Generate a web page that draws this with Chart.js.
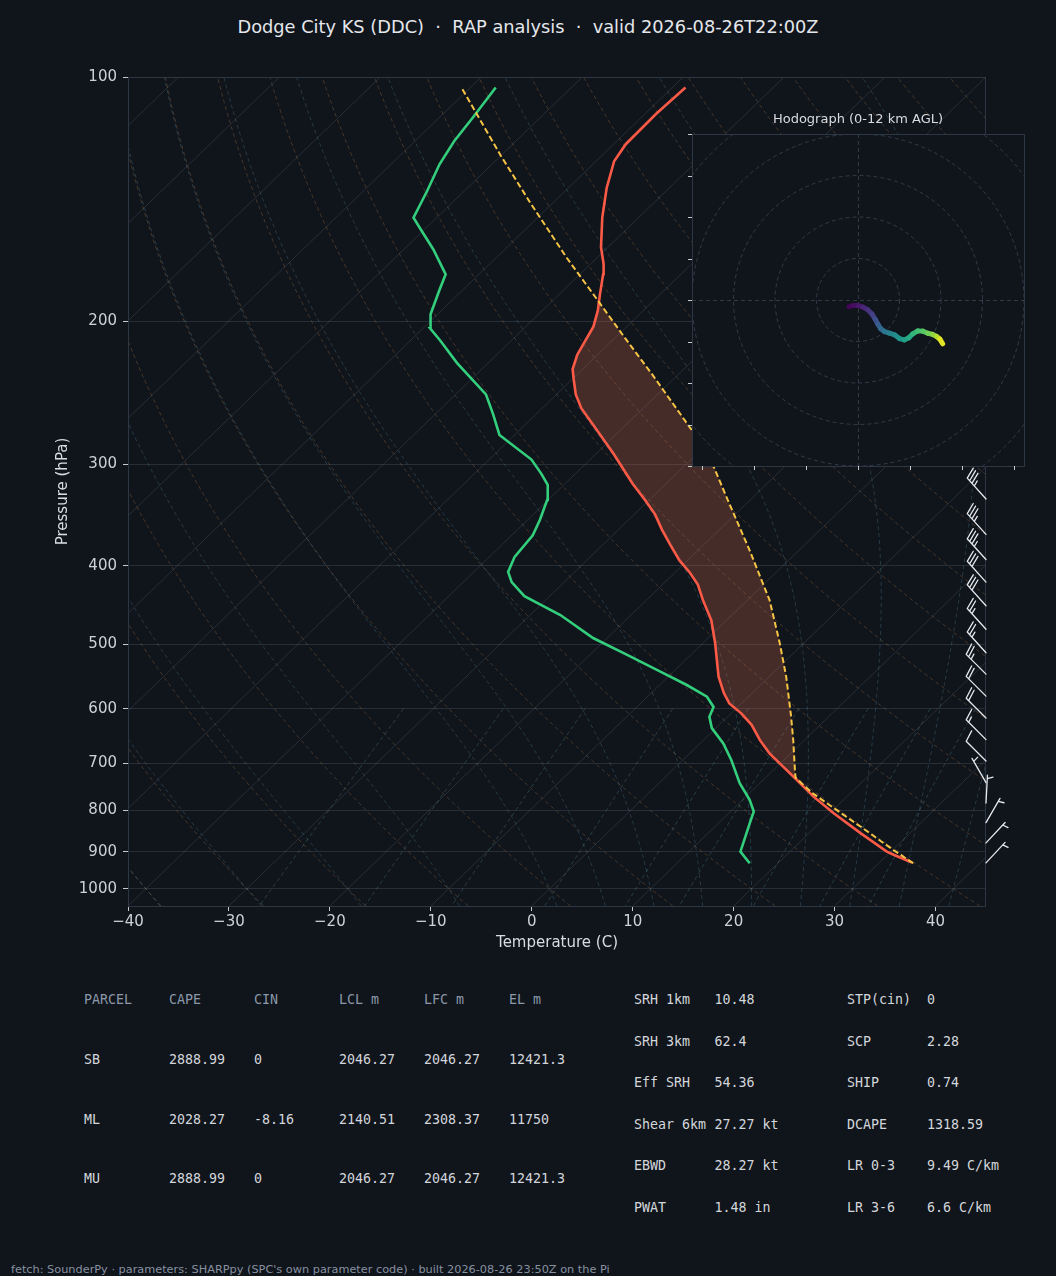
<!DOCTYPE html>
<html>
<head>
<meta charset="utf-8">
<title>Dodge City KS (DDC) sounding</title>
<script src="https://cdn.jsdelivr.net/npm/chart.js@4.4.1/dist/chart.umd.min.js"></script>
<style>
  html, body { margin: 0; padding: 0; background: #10141b; }
  body { position: relative; width: 1056px; height: 1276px; overflow: hidden; font-family: "DejaVu Sans", sans-serif; }
  #skew { position: absolute; left: 0; top: 0; }
  #hodo { position: absolute; left: 650px; top: 100px; }
  #title { position: absolute; left: 0; top: 16px; width: 1056px; text-align: center; font-size: 17.8px; line-height: 22px; color: #e4e7eb; white-space: pre; }
  .cell { position: absolute; font-family: "DejaVu Sans Mono", monospace; font-size: 13.3px; line-height: 16px; color: #d3d7dc; white-space: pre; }
  .cell.hd { color: #8b98a9; }
  #foot { position: absolute; left: 11px; top: 1262px; font-size: 11.3px; line-height: 16px; color: #8791a0; white-space: pre; }
</style>
</head>
<body>
<div id="title">Dodge City KS (DDC)  ·  RAP analysis  ·  valid 2026-08-26T22:00Z</div>
<canvas id="skew" width="1056" height="960"></canvas>
<canvas id="hodo" width="400" height="390"></canvas>
<div id="tables"></div>
<div id="foot">fetch: SounderPy · parameters: SHARPpy (SPC's own parameter code) · built 2026-08-26 23:50Z on the Pi</div>
<script>
// sounding, surface -> top (hPa, degC)
const tempP = [928, 908, 900, 854, 807, 770, 734, 707, 681, 656, 628, 608, 591, 574, 548, 498, 467, 441, 422, 408, 394, 377, 361, 346, 332, 317, 291, 272, 256, 246, 236, 229, 220, 212, 203, 194, 185, 175, 170, 162, 149, 137, 127, 121, 111, 103];
const tempC = [33.2, 30.6, 29.6, 25.1, 20.4, 16.7, 13.3, 10.6, 7.9, 5.6, 3.2, 1.0, -1.2, -2.8, -5.0, -8.8, -11.5, -14.4, -16.5, -18.5, -20.8, -23.3, -25.7, -27.9, -30.4, -33.3, -38.3, -42.4, -46.1, -48.1, -49.8, -51.0, -52.0, -52.6, -53.3, -54.5, -56.0, -57.7, -58.7, -60.7, -63.6, -66.2, -68.2, -68.8, -68.9, -68.7];
const dewP = [930, 900, 830, 803, 777, 741, 694, 662, 634, 614, 597, 580, 561, 540, 515, 491, 460, 436, 419, 407, 390, 367, 351, 332, 318, 308, 296, 276, 260, 246, 225, 211, 204, 196, 183, 175, 163, 154, 149, 138, 128, 120, 112, 103];
const dewC = [17.2, 15.1, 13.1, 12.3, 10.7, 8.0, 4.8, 2.3, -0.4, -1.8, -2.4, -4.1, -7.3, -11.3, -16.3, -21.4, -27.0, -32.5, -35.2, -36.6, -37.5, -37.9, -38.8, -40.1, -41.6, -43.4, -45.8, -51.5, -54.3, -57.0, -63.1, -67.1, -69.3, -70.7, -72.3, -73.3, -77.1, -80.4, -82.3, -83.7, -85.2, -86.1, -86.7, -87.5];
const parcelP = [930, 896, 838, 763, 730, 721, 656, 614, 548, 498, 441, 382, 332, 301, 272, 232, 209, 188, 167, 143, 125, 110, 103];
const parcelC = [33.4, 30.1, 24.4, 16.3, 13.0, 12.5, 8.9, 6.3, 1.7, -2.4, -7.8, -15.0, -22.2, -27.2, -33.0, -42.7, -49.2, -55.7, -63.0, -72.2, -80.0, -87.2, -90.9];
const capeTopP = 188, capeBotP = 735;   // EL and LFC

const pressureTicks = [100, 200, 300, 400, 500, 600, 700, 800, 900, 1000];
const tempTicks = [-40, -30, -20, -10, 0, 10, 20, 30, 40];

// wind barbs (hPa, direction from, kt)
const barbP = [929, 878, 829, 784, 740, 696, 655, 616, 579, 544, 512, 479, 448, 419, 393, 366, 331];
const barbDir = [43, 43, 30, 3, 330, 315, 315, 315, 315, 315, 318, 318, 318, 318, 318, 318, 318];
const barbSpd = [5, 5, 5, 5, 5, 10, 15, 20, 20, 25, 25, 25, 30, 30, 35, 35, 35];

// hodograph (kt) and height (km AGL)
const hodoU = [-4.3, -2.4, 0, 2.4, 4.8, 6.7, 8.3, 9.6, 10.9, 12.8, 15.2, 17.6, 20.0, 22.4, 24.5, 26.4, 28.8, 31.2, 33.6, 36.0, 37.9, 39.5, 40.8];
const hodoV = [-3.2, -2.7, -2.7, -3.4, -4.8, -6.7, -9.3, -11.7, -13.8, -15.2, -16.0, -16.8, -18.6, -19.2, -18.2, -16.3, -14.9, -15.0, -16.0, -16.6, -17.6, -18.9, -21.1];
const hodoZ = [0, 0.3, 0.6, 1.0, 1.5, 2.0, 2.6, 3.2, 3.8, 4.4, 5.0, 5.5, 6.0, 6.6, 7.1, 7.6, 8.1, 8.6, 9.1, 9.7, 10.3, 11.0, 12.0];

const parcelHead = ['PARCEL', 'CAPE', 'CIN', 'LCL m', 'LFC m', 'EL m'];
const parcelRows = [
  ['SB', '2888.99', '0', '2046.27', '2046.27', '12421.3'],
  ['ML', '2028.27', '-8.16', '2140.51', '2308.37', '11750'],
  ['MU', '2888.99', '0', '2046.27', '2046.27', '12421.3']
];
const indexRows = [
  ['SRH 1km', '10.48', 'STP(cin)', '0'],
  ['SRH 3km', '62.4', 'SCP', '2.28'],
  ['Eff SRH', '54.36', 'SHIP', '0.74'],
  ['Shear 6km', '27.27 kt', 'DCAPE', '1318.59'],
  ['EBWD', '28.27 kt', 'LR 0-3', '9.49 C/km'],
  ['PWAT', '1.48 in', 'LR 3-6', '6.6 C/km']
];

const P_TOP = 100, P_BOT = 1050, X_MIN = -40, X_MAX = 45;
const SKEW = (X_MAX - X_MIN) / Math.log(P_BOT / P_TOP);
const BG = '#10141b';

function skewX(t, p) {
  return t + SKEW * Math.log(P_BOT / p);
}
const toPts = (ps, ts) => ps.map((p, i) => ({ x: skewX(ts[i], p), y: p }));

// moist adiabat from t0 at 1000 hPa, integrated both ways
function moistAdiabat(t0) {
  const f = (p, tk) => {
    const tc = tk - 273.15;
    const es = 6.112 * Math.exp(17.67 * tc / (tc + 243.5));
    const rs = 0.622 * es / (p - es);
    const Lv = 2.501e6, Rd = 287.04, Cp = 1005.7;
    return (1 / p) * (Rd * tk + Lv * rs) / (Cp + (Lv * Lv * rs * 0.622) / (Rd * tk * tk));
  };
  const step = (p, tk, dp) => {
    const k1 = f(p, tk), k2 = f(p + dp / 2, tk + dp * k1 / 2);
    const k3 = f(p + dp / 2, tk + dp * k2 / 2), k4 = f(p + dp, tk + dp * k3);
    return tk + dp * (k1 + 2 * k2 + 2 * k3 + k4) / 6;
  };
  const up = [[1000, t0]], down = [];
  let p = 1000, tk = t0 + 273.15;
  while (p > P_TOP) {
    const dp = -Math.min(5, p - P_TOP);
    tk = step(p, tk, dp); p += dp;
    up.push([p, tk - 273.15]);
  }
  p = 1000; tk = t0 + 273.15;
  while (p < P_BOT) {
    const dp = Math.min(5, P_BOT - p);
    tk = step(p, tk, dp); p += dp;
    down.unshift([p, tk - 273.15]);
  }
  return down.concat(up);
}

const skewBackground = {
  id: 'skewBackground',
  beforeDatasetsDraw(chart) {
    const { ctx, chartArea: a } = chart;
    const xs = chart.scales.x, ys = chart.scales.y;
    const curve = pts => {
      ctx.beginPath();
      pts.forEach(([p, t], i) => {
        const X = xs.getPixelForValue(skewX(t, p)), Y = ys.getPixelForValue(p);
        if (i) ctx.lineTo(X, Y); else ctx.moveTo(X, Y);
      });
      ctx.stroke();
    };
    ctx.save();
    ctx.beginPath();
    ctx.rect(a.left, a.top, a.width, a.height);
    ctx.clip();
    ctx.lineWidth = 1;

    // isotherms
    ctx.strokeStyle = 'rgba(150,165,185,0.18)';
    ctx.setLineDash([]);
    for (let t = -120; t <= 40; t += 10) curve([[P_BOT, t], [P_TOP, t]]);

    // dry adiabats
    const levels = [];
    for (let i = 0; i <= 60; i++) levels.push(P_BOT * Math.pow(P_TOP / P_BOT, i / 60));
    ctx.strokeStyle = 'rgba(170,120,70,0.35)';
    ctx.setLineDash([4, 3]);
    for (let t0 = -40; t0 <= 240; t0 += 10) {
      curve(levels.map(p => [p, (t0 + 273.15) * Math.pow(p / 1000, 0.2857) - 273.15]));
    }

    // moist adiabats
    ctx.strokeStyle = 'rgba(90,150,170,0.3)';
    [-40, -30, -20, -10, 0, 5, 10, 15, 20, 25, 30, 35, 40, 45].forEach(t0 => curve(moistAdiabat(t0)));

    // mixing ratio lines
    ctx.strokeStyle = 'rgba(90,160,160,0.32)';
    const mixLevels = [];
    for (let i = 0; i <= 20; i++) mixLevels.push(600 + (P_BOT - 600) * i / 20);
    [0.0004, 0.001, 0.002, 0.004, 0.007, 0.01, 0.016, 0.024, 0.032].forEach(w => {
      curve(mixLevels.map(p => {
        const l = Math.log(w * p / (0.622 + w) / 6.112);
        return [p, 243.5 * l / (17.67 - l)];
      }));
    });
    ctx.restore();
  }
};

function drawBarb(ctx, bx, by, dir, spd) {
  const L = 28, h = 0.4 * L, w = 0.25 * L, gap = 0.125 * L;
  const r = dir * Math.PI / 180;
  const ux = Math.sin(r), uy = -Math.cos(r);
  const nx = -uy, ny = ux;
  let s = Math.round(spd / 5) * 5;
  const full = Math.floor(s / 10);
  s -= full * 10;
  const half = s >= 5;
  ctx.beginPath();
  ctx.moveTo(bx, by);
  ctx.lineTo(bx + ux * L, by + uy * L);
  let d = L;
  for (let i = 0; i < full; i++) {
    const sx = bx + ux * d, sy = by + uy * d;
    ctx.moveTo(sx, sy);
    ctx.lineTo(sx + nx * h + ux * w / 2, sy + ny * h + uy * w / 2);
    d -= gap;
  }
  if (half) {
    if (full === 0) d -= gap;
    const sx = bx + ux * d, sy = by + uy * d;
    ctx.moveTo(sx, sy);
    ctx.lineTo(sx + nx * h / 2 + ux * w / 4, sy + ny * h / 2 + uy * w / 4);
  }
  ctx.stroke();
}

const frameAndBarbs = {
  id: 'frameAndBarbs',
  afterDatasetsDraw(chart) {
    const { ctx, chartArea: a } = chart;
    const ys = chart.scales.y;
    ctx.save();
    ctx.strokeStyle = '#2d3744';
    ctx.lineWidth = 1;
    ctx.setLineDash([]);
    ctx.strokeRect(Math.round(a.left) + 0.5, Math.round(a.top) + 0.5, Math.round(a.width) - 1, Math.round(a.height));
    ctx.strokeStyle = '#e6e9ed';
    ctx.lineWidth = 1.3;
    ctx.lineCap = 'round';
    barbP.forEach((p, i) => drawBarb(ctx, a.right, ys.getPixelForValue(p), barbDir[i], barbSpd[i]));
    ctx.restore();
  }
};

const capePts = [];
parcelP.forEach((p, i) => {
  if (p <= capeBotP && p >= capeTopP) capePts.push({ x: skewX(parcelC[i], p), y: p });
});
for (let i = tempP.length - 1; i >= 0; i--) {
  if (tempP[i] <= capeBotP && tempP[i] >= capeTopP) capePts.push({ x: skewX(tempC[i], tempP[i]), y: tempP[i] });
}

const tickFont = { family: 'DejaVu Sans', size: 15 };
const titleFont = { family: 'DejaVu Sans', size: 15 };

new Chart(document.getElementById('skew'), {
  type: 'scatter',
  data: {
    datasets: [
      { label: 'Parcel', data: toPts(parcelP, parcelC), showLine: true, borderColor: '#f6c445', borderWidth: 2, borderDash: [6, 3], pointRadius: 0, order: 0 },
      { label: 'Temperature', data: toPts(tempP, tempC), showLine: true, borderColor: '#fb5a46', borderWidth: 2.6, pointRadius: 0, order: 1 },
      { label: 'Dewpoint', data: toPts(dewP, dewC), showLine: true, borderColor: '#33cf7c', borderWidth: 2.6, pointRadius: 0, order: 2 },
      { label: 'CAPE', data: capePts, showLine: true, borderWidth: 0, borderColor: 'rgba(0,0,0,0)', backgroundColor: 'rgba(215,110,80,0.27)', fill: 'shape', pointRadius: 0, order: 5 }
    ]
  },
  options: {
    responsive: false,
    animation: false,
    layout: { padding: { left: 50, right: 70, top: 77, bottom: 0 } },
    plugins: { legend: { display: false }, tooltip: { enabled: false } },
    scales: {
      x: {
        type: 'linear', min: X_MIN, max: X_MAX,
        afterBuildTicks: s => { s.ticks = tempTicks.map(v => ({ value: v })); },
        afterFit: s => { s.height = 54; },
        ticks: {
          color: '#cdd2d8', font: tickFont, padding: 2, autoSkip: false, maxRotation: 0,
          callback: v => (v < 0 ? '\u2212' + Math.abs(v) : String(v))
        },
        grid: { drawOnChartArea: false, drawTicks: true, tickLength: 5, tickColor: '#c5cad1', tickWidth: 1 },
        border: { display: false },
        title: { display: true, text: 'Temperature (C)', color: '#d9dde2', font: titleFont, padding: { top: 0, bottom: 8 } }
      },
      y: {
        type: 'logarithmic', reverse: true, min: P_TOP, max: P_BOT,
        afterBuildTicks: s => { s.ticks = pressureTicks.map(v => ({ value: v })); },
        afterFit: s => { s.width = 78; },
        ticks: { color: '#cdd2d8', font: tickFont, padding: 6, autoSkip: false, callback: v => String(v) },
        grid: { color: 'rgba(150,165,185,0.18)', lineWidth: 1, drawTicks: true, tickLength: 5, tickColor: '#c5cad1', tickWidth: 1 },
        border: { display: false },
        title: { display: true, text: 'Pressure (hPa)', color: '#d9dde2', font: titleFont, padding: { top: 4, bottom: 0 } }
      }
    }
  },
  plugins: [skewBackground, frameAndBarbs]
});

// hodograph inset
const viridisStops = ['#440154', '#482475', '#414487', '#355f8d', '#2a788e', '#21918c', '#22a884', '#44bf70', '#7ad151', '#bddf26', '#fde725'];
function viridis(t) {
  t = Math.max(0, Math.min(1, t));
  const s = t * 10, i = Math.min(9, Math.floor(s)), f = s - i;
  const a = viridisStops[i], b = viridisStops[i + 1];
  const c = k => {
    const va = parseInt(a.substr(k, 2), 16), vb = parseInt(b.substr(k, 2), 16);
    return Math.round(va + (vb - va) * f);
  };
  return 'rgb(' + c(1) + ',' + c(3) + ',' + c(5) + ')';
}

const hodoBackground = {
  id: 'hodoBackground',
  beforeDatasetsDraw(chart) {
    const { ctx, chartArea: a } = chart;
    const xs = chart.scales.x, ys = chart.scales.y;
    const cx = xs.getPixelForValue(0), cy = ys.getPixelForValue(0);
    const k = xs.getPixelForValue(1) - cx;
    ctx.save();
    ctx.fillStyle = BG;
    ctx.fillRect(a.left, a.top, a.width, a.height);
    ctx.beginPath();
    ctx.rect(a.left, a.top, a.width, a.height);
    ctx.clip();
    ctx.strokeStyle = 'rgba(110,130,155,0.35)';
    ctx.lineWidth = 1;
    ctx.setLineDash([4, 3]);
    [20, 40, 60, 80, 100].forEach(r => {
      ctx.beginPath();
      ctx.arc(cx, cy, r * k, 0, 2 * Math.PI);
      ctx.stroke();
    });
    ctx.beginPath();
    ctx.moveTo(a.left, Math.round(cy) + 0.5); ctx.lineTo(a.right, Math.round(cy) + 0.5);
    ctx.moveTo(Math.round(cx) + 0.5, a.top); ctx.lineTo(Math.round(cx) + 0.5, a.bottom);
    ctx.stroke();
    ctx.restore();
  },
  afterDraw(chart) {
    const { ctx, chartArea: a } = chart;
    const xs = chart.scales.x, ys = chart.scales.y;
    ctx.save();
    ctx.strokeStyle = '#2d3744';
    ctx.lineWidth = 1;
    ctx.strokeRect(Math.round(a.left) + 0.5, Math.round(a.top) + 0.5, Math.round(a.width), Math.round(a.height));
    ctx.strokeStyle = '#c5cad1';
    ctx.beginPath();
    for (let v = -80; v <= 80; v += 20) {
      const y = Math.round(ys.getPixelForValue(v)) + 0.5;
      ctx.moveTo(a.left - 4, y); ctx.lineTo(a.left, y);
    }
    for (let v = -75; v <= 75; v += 25) {
      const x = Math.round(xs.getPixelForValue(v)) + 0.5;
      ctx.moveTo(x, a.bottom); ctx.lineTo(x, a.bottom + 4);
    }
    ctx.stroke();
    ctx.fillStyle = '#d8dce1';
    ctx.font = '13px "DejaVu Sans"';
    ctx.textAlign = 'center';
    ctx.textBaseline = 'middle';
    ctx.fillText('Hodograph (0-12 km AGL)', (a.left + a.right) / 2, a.top - 14);
    ctx.restore();
  }
};

new Chart(document.getElementById('hodo'), {
  type: 'scatter',
  data: {
    datasets: [{
      label: 'Hodograph',
      data: hodoU.map((u, i) => ({ x: u, y: hodoV[i] })),
      showLine: true,
      borderWidth: 5,
      borderCapStyle: 'round',
      borderJoinStyle: 'round',
      borderColor: viridis(0),
      segment: { borderColor: c => viridis((hodoZ[c.p0DataIndex] + hodoZ[c.p1DataIndex]) / 24) },
      pointRadius: 0
    }]
  },
  options: {
    responsive: false,
    animation: false,
    layout: { padding: { left: 42, right: 26, top: 34, bottom: 24 } },
    plugins: { legend: { display: false }, tooltip: { enabled: false } },
    scales: {
      x: { type: 'linear', min: -80, max: 80, display: false },
      y: { type: 'linear', min: -80, max: 80, display: false }
    }
  },
  plugins: [hodoBackground]
});

// parameter tables
const tables = document.getElementById('tables');
function cell(text, left, mid, cls) {
  const d = document.createElement('div');
  d.className = 'cell' + (cls ? ' ' + cls : '');
  d.textContent = text;
  d.style.left = left + 'px';
  d.style.top = (mid - 8) + 'px';
  tables.appendChild(d);
}
parcelHead.forEach((h, j) => cell(h, 84 + 85 * j, 1000, 'hd'));
parcelRows.forEach((r, i) => r.forEach((v, j) => cell(v, 84 + 85 * j, 1060 + 59.5 * i)));
indexRows.forEach((r, i) => {
  const y = 1000 + 41.5 * i;
  cell(r[0], 634, y);
  cell(r[1], 714.5, y);
  cell(r[2], 847, y);
  cell(r[3], 927, y);
});
</script>
</body>
</html>
